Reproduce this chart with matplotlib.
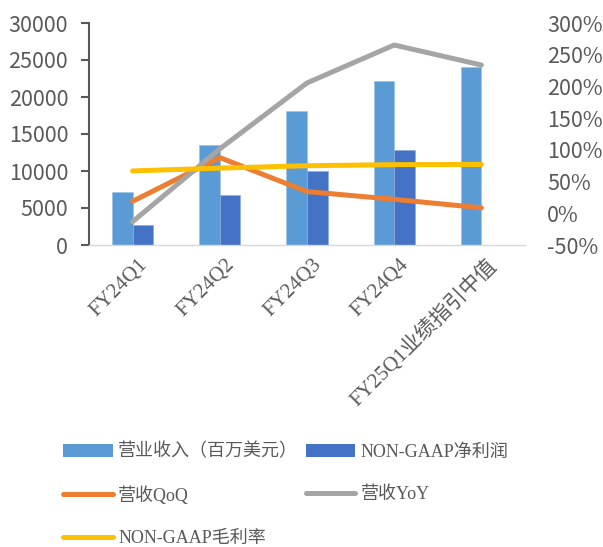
import matplotlib
matplotlib.use("Agg")
import matplotlib.pyplot as plt
import matplotlib.transforms as mtransforms
import numpy as np
from matplotlib.lines import Line2D
from matplotlib.patches import Patch
from matplotlib.ticker import FuncFormatter, MultipleLocator

categories = ["FY24Q1", "FY24Q2", "FY24Q3", "FY24Q4", "FY25Q1业绩指引中值"]
revenue = [7192, 13507, 18120, 22103, 24000]
net_income = [2713, 6740, 10020, 12839, None]
qoq = [0.189, 0.878, 0.342, 0.220, 0.086]
yoy = [-0.132, 1.015, 2.055, 2.653, 2.337]
gross_margin = [0.668, 0.712, 0.750, 0.767, 0.770]

labels = ["营业收入（百万美元）", "NON-GAAP净利润", "营收QoQ", "营收YoY", "NON-GAAP毛利率"]
c_rev, c_ni, c_qoq, c_yoy, c_gm = "#5B9BD5", "#4472C4", "#ED7D31", "#A5A5A5", "#FFC000"
txt = "#595959"

serif = ["Liberation Serif", "Noto Sans CJK SC"]
sans = ["Noto Sans CJK SC", "DejaVu Sans"]

fig = plt.figure(figsize=(6.03, 5.47), dpi=100)
ax = fig.add_axes([89/603, 1-245/547, (525-89)/603, (245-23)/547])
ax2 = ax.twinx()

x = np.arange(len(categories))
w = 0.236
ax.bar(x - w/2, revenue, w, color=c_rev, edgecolor="#9DC3E6", linewidth=0.5, zorder=2)
ni_x = [xi + w/2 for xi, v in zip(x, net_income) if v is not None]
ni_v = [v for v in net_income if v is not None]
ax.bar(ni_x, ni_v, w, color=c_ni, edgecolor="#8FAADC", linewidth=0.5, zorder=2)

ax.set_xlim(-0.5, len(categories) - 0.5)
ax.set_ylim(0, 30000)
ax.yaxis.set_major_locator(MultipleLocator(5000))

ax2.plot(x, qoq, color=c_qoq, lw=3.6, solid_capstyle="round", solid_joinstyle="round")
ax2.plot(x, yoy, color=c_yoy, lw=3.6, solid_capstyle="round", solid_joinstyle="round")
ax2.plot(x, gross_margin, color=c_gm, lw=3.6, solid_capstyle="round", solid_joinstyle="round")
ax2.set_ylim(-0.5, 3.0)
ax2.yaxis.set_major_locator(MultipleLocator(0.5))
ax2.yaxis.set_major_formatter(FuncFormatter(lambda v, p: f"{v*100:.0f}%"))

for a in (ax, ax2):
    for s in a.spines.values():
        s.set_visible(False)
ax.spines["left"].set_visible(True)
ax.spines["left"].set_color(txt)
ax.spines["left"].set_linewidth(1.5)
ax.spines["bottom"].set_visible(True)
ax.spines["bottom"].set_color("#D9D9D9")
ax.spines["bottom"].set_linewidth(1.0)

ax.tick_params(axis="y", direction="out", length=6, width=1.5, color=txt, pad=9,
               labelsize=15.5, labelcolor=txt)
ax.tick_params(axis="x", length=0, pad=4)
ax2.tick_params(axis="y", length=0, pad=16, labelsize=15.5, labelcolor=txt)
for lab in ax.get_yticklabels() + ax2.get_yticklabels():
    lab.set_family(sans)
    lab.set_fontweight("light")

ax.set_xticks(x)
ax.set_xticklabels(categories, rotation=45, ha="right", va="top", rotation_mode="anchor",
                   family=serif, fontsize=15, color=txt)
offset = mtransforms.ScaledTranslation(5/100, -5/100, fig.dpi_scale_trans)
for lab in ax.get_xticklabels():
    lab.set_transform(lab.get_transform() + offset)

handles = [
    Patch(facecolor=c_rev, edgecolor="none"),
    Line2D([], [], color=c_qoq, lw=3.6, solid_capstyle="round"),
    Line2D([], [], color=c_gm, lw=3.6, solid_capstyle="round"),
    Patch(facecolor=c_ni, edgecolor="none"),
    Line2D([], [], color=c_yoy, lw=3.6, solid_capstyle="round"),
]
hl = [labels[0], labels[2], labels[4], labels[1], labels[3]]
leg = fig.legend(handles, hl, loc="upper left", bbox_to_anchor=(47/603, 1-427/547), ncol=2,
                 frameon=False, prop={"family": serif, "size": 13}, handlelength=2.75,
                 handleheight=0.7, handletextpad=0.3, columnspacing=0.4, labelspacing=1.4)
for t in leg.get_texts():
    t.set_color(txt)

fig.savefig("out.png", dpi=100)
